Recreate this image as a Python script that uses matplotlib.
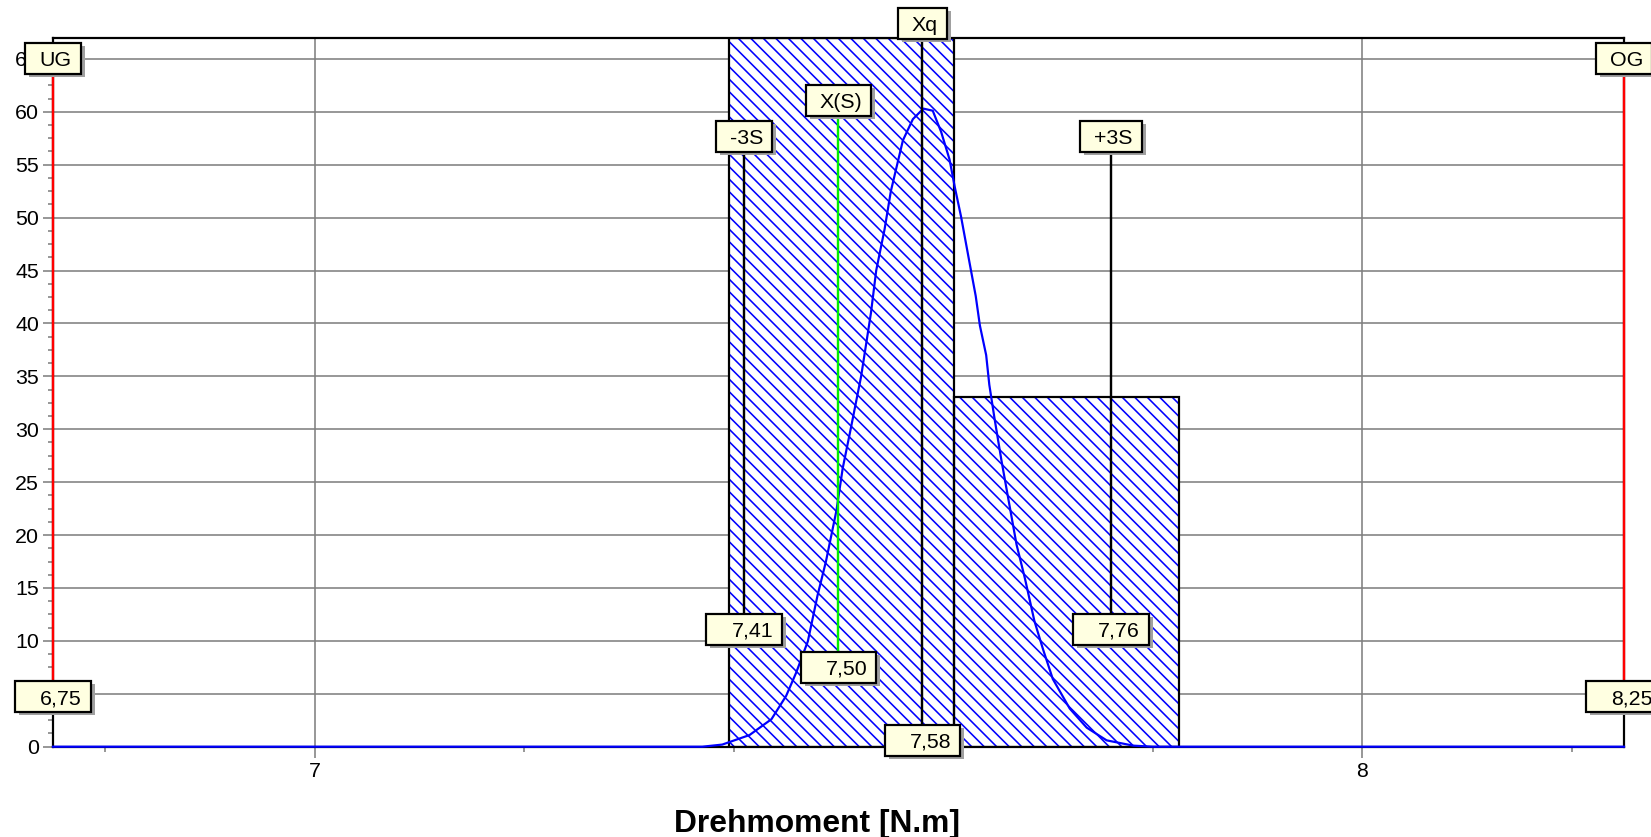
import matplotlib
matplotlib.use("Agg")
import matplotlib.pyplot as plt
from matplotlib.patches import Rectangle
from matplotlib.transforms import IdentityTransform
from matplotlib.ticker import MultipleLocator
import numpy as np

# ---------------- data ----------------
bin_edges = [7.395, 7.610, 7.825]
bin_counts = [67, 33]

curve_x = [6.75, 7.37, 7.389, 7.415, 7.436, 7.450, 7.4596, 7.4707, 7.480, 7.488,
           7.498, 7.504, 7.512, 7.5216, 7.531, 7.536, 7.544, 7.550, 7.5615, 7.571,
           7.581, 7.590, 7.598, 7.606, 7.611, 7.617, 7.625, 7.631, 7.635, 7.641,
           7.644, 7.649, 7.6555, 7.662, 7.670, 7.678, 7.687, 7.6953, 7.7046, 7.7208,
           7.737, 7.756, 7.7814, 7.80, 8.25]
curve_y = [0, 0, 0.2, 1.1, 2.6, 4.8, 7.0, 9.95, 14.3, 17.5,
           22.3, 26.3, 30.2, 35.0, 41.0, 45.0, 48.9, 52.5, 57.3, 59.3,
           60.3, 60.1, 58.1, 55.5, 52.9, 50.1, 45.8, 42.6, 39.8, 37.0,
           34.2, 31.0, 27.1, 23.5, 19.1, 15.9, 11.9, 9.2, 6.4, 3.6,
           1.8, 0.6, 0.1, 0, 0]

marker_names = ["-3S", "X(S)", "Xq", "+3S"]
marker_values = [7.41, 7.50, 7.58, 7.76]
marker_labels = ["7,41", "7,50", "7,58", "7,76"]

limit_names = ["UG", "OG"]
limit_values = [6.75, 8.25]
limit_labels = ["6,75", "8,25"]

x_label = "Drehmoment [N.m]"
x_min, x_max = 6.75, 8.25
y_max = 67

# ---------------- style / layout ----------------
W, H, DPI = 1651, 837, 75
PX = 72.0 / DPI  # points per pixel
plt.rcParams["font.family"] = ["Liberation Sans", "DejaVu Sans"]
plt.rcParams["hatch.linewidth"] = 1.6 * PX
plt.rcParams["hatch.color"] = "#0000FF"

fig = plt.figure(figsize=(W / DPI, H / DPI), dpi=DPI)
ax_l, ax_r, ax_b, ax_t = 53, 1624, 746.7, 37.7
ax = fig.add_axes([ax_l / W, 1 - ax_b / H, (ax_r - ax_l) / W, (ax_b - ax_t) / H])

TICK_FS = 20.5
ax.set_xlim(x_min, x_max)
ax.set_ylim(0, y_max)
ax.xaxis.set_major_locator(MultipleLocator(1))
ax.xaxis.set_minor_locator(MultipleLocator(0.2))
ax.yaxis.set_major_locator(MultipleLocator(5))
ax.yaxis.set_minor_locator(MultipleLocator(1.25))
ax.grid(which="major", color="#808080", lw=1.6 * PX)
ax.set_axisbelow(True)
ax.tick_params(which="both", color="#808080", width=1.6 * PX, labelsize=TICK_FS, labelcolor="black")
ax.tick_params(which="major", length=10.5 * PX)
ax.tick_params(which="minor", length=5.5 * PX)
ax.tick_params(axis="y", which="major", pad=3.5 * PX)
ax.tick_params(axis="x", which="major", pad=4.5 * PX)
for s in ax.spines.values():
    s.set_linewidth(2.2 * PX)
    s.set_color("black")

# histogram bars: hatch then black outline
widths = np.diff(bin_edges)
ax.bar(bin_edges[:-1], bin_counts, width=widths, align="edge", facecolor="white",
       edgecolor="#0000FF", hatch="\\\\", linewidth=0, zorder=1)
ax.bar(bin_edges[:-1], bin_counts, width=widths, align="edge", fill=False,
       edgecolor="black", linewidth=2.2 * PX, zorder=2)

# distribution curve
ax.plot(curve_x, curve_y, color="#0000FF", lw=2.2 * PX, zorder=3, clip_on=False)

# helpers to convert pixel rows to data y
def ypix(py):
    return (ax_b - py) / (ax_b - ax_t) * y_max

# marker lines (top label row / bottom label row in pixels)
top_rows = {"-3S": (136, 151.5), "X(S)": (100, 115.7), "Xq": (23.5, 39.3), "+3S": (136, 151.5)}
bot_rows = {"-3S": (629, 613.3), "X(S)": (667, 651.2), "Xq": (740, 724.5), "+3S": (629, 613.3)}
line_cols = {"-3S": "black", "X(S)": "#00F000", "Xq": "black", "+3S": "black"}
for name, v in zip(marker_names, marker_values):
    ax.plot([v, v], [ypix(top_rows[name][1]), ypix(bot_rows[name][1])],
            color=line_cols[name], lw=2.4 * PX, zorder=4, clip_on=False)

lim_top = (58.3, 73.3)
lim_bot = (696.7, 681)
for v in limit_values:
    ax.plot([v, v], [ypix(lim_top[1]), ypix(lim_bot[1])], color="#FF0000",
            lw=2.4 * PX, zorder=4, clip_on=False)

# label boxes
renderer = fig.canvas.get_renderer()
FS = 20.5
BOX_H = 31

def add_box(xv, py, text, lpad, rpad=9):
    cx, _ = ax.transData.transform((xv, 0))
    cy = H - py
    t = fig.text(0, 0, text, fontsize=FS, transform=IdentityTransform(),
                 ha="left", va="baseline", zorder=12)
    tw = t.get_window_extent(renderer).width
    bw = tw + lpad + rpad
    x0 = cx - bw / 2
    y0 = cy - BOX_H / 2
    t.set_position((x0 + lpad, cy - 0.36 * FS / PX))
    fig.add_artist(Rectangle((x0 + 4, y0 - 3), bw, BOX_H, transform=IdentityTransform(),
                             facecolor="#A0A0A0", edgecolor="none", zorder=10))
    fig.add_artist(Rectangle((x0, y0), bw, BOX_H, transform=IdentityTransform(),
                             facecolor="#FFFFE1", edgecolor="black", lw=2.2 * PX, zorder=11))

for name, v, lab in zip(marker_names, marker_values, marker_labels):
    add_box(v, top_rows[name][0], name, 14)
    add_box(v, bot_rows[name][0], lab, 25)
for name, v, lab in zip(limit_names, limit_values, limit_labels):
    add_box(v, lim_top[0], name, 14)
    add_box(v, lim_bot[0], lab, 25)

fig.text(817 / W, 1 - 832 / H, x_label, ha="center", va="baseline",
         fontsize=30.5, fontweight="bold")

fig.savefig("out.png", dpi=DPI, facecolor="white")
